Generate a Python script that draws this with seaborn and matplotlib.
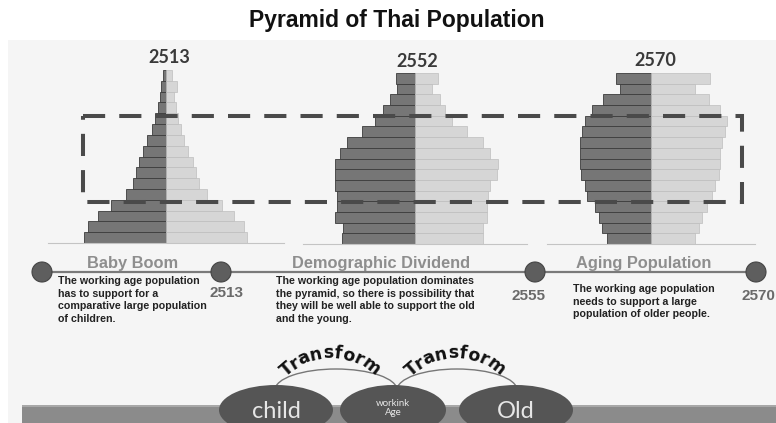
import numpy as np
import pandas as pd
import seaborn as sns
import matplotlib.pyplot as plt
from matplotlib.patches import Rectangle, Ellipse, Arc
from matplotlib.textpath import TextToPath
from matplotlib.font_manager import FontProperties

# age groups, youngest first (bottom of each pyramid)
ages = ['0-4', '5-9', '10-14', '15-19', '20-24', '25-29', '30-34', '35-39',
        '40-44', '45-49', '50-54', '55-59', '60-64', '65-69', '70-74', '75+']

male_2513 = [82, 78, 68, 55, 40, 33, 30, 27, 23, 19, 14, 11, 8, 6, 5, 3]
female_2513 = [81, 78, 68, 56, 41, 33, 30, 27, 22, 18, 15, 12, 10, 8, 11, 6]
male_2552 = [73, 72, 80, 78, 78, 80, 80, 80, 75, 68, 53, 40, 32, 25, 18, 19]
female_2552 = [68, 68, 72, 72, 73, 75, 82, 83, 75, 68, 52, 37, 30, 25, 17, 23]
male_2570 = [44, 49, 52, 56, 64, 66, 70, 71, 71, 71, 69, 66, 59, 48, 31, 35]
female_2570 = [44, 48, 51, 56, 61, 64, 68, 69, 69, 71, 74, 76, 69, 58, 44, 59]

years = ['2513', '2552', '2570']
phases = ['Baby Boom', 'Demographic Dividend', 'Aging Population']
timeline_years = ['2513', '2555', '2570']
notes = [
    "The working age population\nhas to support for a\ncomparative large population\nof children.",
    "The working age population dominates\nthe pyramid, so there is possibility that\nthey will be well able to support the old\nand the young.",
    "The working age population\nneeds to support a large\npopulation of older people.",
]
groups = ['child', 'workink\nAge', 'Old']

W, H = 776, 423
fig = plt.figure(figsize=(W / 100, H / 100), dpi=100)
fig.patch.set_facecolor('white')


def px_axes(left, top, right, bottom, z):
    return fig.add_axes([left / W, 1 - bottom / H, (right - left) / W, (bottom - top) / H], zorder=z)


# background panel
bg = px_axes(0, 0, W, H, 0)
bg.set_xlim(0, W)
bg.set_ylim(H, 0)
bg.axis('off')
bg.add_patch(Rectangle((8, 40), W - 8, H - 40, color='#f5f5f5', lw=0))

# pyramids
pyr = [(male_2513, female_2513, 166, 70, 243, 118),
       (male_2552, female_2552, 415, 73, 244, 112),
       (male_2570, female_2570, 651, 73, 244, 104)]
for (m, f, cx, top, bot, half), yr in zip(pyr, years):
    ax = px_axes(cx - half, top, cx + half, bot, 1)
    df = pd.DataFrame({
        'age': ages * 2,
        'sex': ['Male'] * len(ages) + ['Female'] * len(ages),
        'pop': [-v for v in m] + list(f),
    })
    sns.barplot(data=df, x='pop', y='age', hue='sex', order=ages[::-1],
                hue_order=['Male', 'Female'], orient='h', dodge=False, width=1.0,
                palette={'Male': '#767676', 'Female': '#d6d6d6'}, saturation=1,
                errorbar=None, legend=False, ax=ax)
    for p in ax.patches:
        if p.get_width() < 0:
            p.set_edgecolor('#3c3c3c')
            p.set_linewidth(0.6)
        else:
            p.set_edgecolor('#bdbdbd')
            p.set_linewidth(0.5)
    ax.set_xlim(-half, half)
    ax.set_ylim(len(ages) - 0.5, -0.5)
    ax.set_facecolor('none')
    for s in ['top', 'left', 'right']:
        ax.spines[s].set_visible(False)
    ax.spines['bottom'].set_color('#c4c4c4')
    ax.spines['bottom'].set_linewidth(0.8)
    ax.set_xticks([])
    ax.set_yticks([])
    ax.set_xlabel('')
    ax.set_ylabel('')

# overlay for annotations
ov = px_axes(0, 0, W, H, 3)
ov.set_xlim(0, W)
ov.set_ylim(H, 0)
ov.axis('off')
ov.set_facecolor('none')

ov.text(397, 27, 'Pyramid of Thai Population', ha='center', va='baseline',
        family='Liberation Sans', weight='bold', size=16.5, color='#111111')

for x, y, yr in zip([169, 417, 655], [63, 67, 66], years):
    ov.text(x, y, yr, ha='center', va='baseline', family='Lato', weight='bold',
            size=13, color='#3a3a3a')

# dashed working-age box
ov.add_patch(Rectangle((83, 116), 659, 86, fill=False, ec='#4a4a4a', lw=2.9,
                       ls=(0, (5.5, 3.5)), zorder=5))

# timeline
ov.plot([40, 757], [272, 272], color='#7a7a7a', lw=1.6, zorder=4)
for x in [42, 221, 535, 756]:
    ov.add_patch(Ellipse((x, 272), 20, 20, fc='#5e5e5e', ec='#444444', lw=0.8, zorder=5))
for x, ph in zip([133, 381, 644], phases):
    ov.text(x, 268, ph, ha='center', va='baseline', family='Liberation Sans',
            weight='bold', size=11.8, color='#8e8e8e', zorder=6)
for x, y, ty, ha in zip([226, 528, 775], [297, 300, 300], timeline_years, ['center', 'center', 'right']):
    ov.text(x, y, ty, ha=ha, va='baseline', family='Liberation Sans',
            weight='bold', size=11, color='#6a6a6a')
for x, y, note in zip([58, 276, 573], [276, 276, 284], notes):
    ov.text(x, y, note, ha='left', va='top', family='Liberation Sans',
            weight='bold', size=7.7, color='#222222', linespacing=1.32)

# bottom band and groups
ov.add_patch(Rectangle((22, 405), W - 22, 18, color='#8b8b8b', lw=0, zorder=2))
ov.add_patch(Rectangle((22, 405), W - 22, 2, color='#a8a8a8', lw=0, zorder=2))
for x, w in zip([276, 393, 516], [114, 106, 114]):
    ov.add_patch(Ellipse((x, 410), w, 50, fc='#555555', ec='none', zorder=3))
ov.text(276, 411, groups[0], ha='center', va='center', family='Lato', size=17, color='#e6e6e6', zorder=4)
ov.text(393, 408, groups[1], ha='center', va='center', family='Lato', size=7, color='#e6e6e6',
        linespacing=1.0, zorder=4)
ov.text(516, 411, groups[2], ha='center', va='center', family='Lato', size=17, color='#e6e6e6', zorder=4)

ov.add_patch(Arc((336, 390), 122, 42, theta1=180, theta2=360, color='#777777', lw=1.0, zorder=2))
ov.add_patch(Arc((457, 390), 120, 42, theta1=180, theta2=360, color='#777777', lw=1.0, zorder=2))

t2p = TextToPath()


def arc_text(s, cx, cy, r, size):
    fp = FontProperties(family='DejaVu Sans', weight='heavy', size=size)

    def wid(t):
        if not t:
            return 0.0
        return t2p.get_text_width_height_descent(t, fp, ismath=False)[0] * 100 / 72

    total = wid(s)
    for i, ch in enumerate(s):
        mid = (wid(s[:i]) + wid(s[:i + 1])) / 2 - total / 2
        phi = mid / r
        ov.text(cx + r * np.sin(phi), cy - r * np.cos(phi), ch, rotation=-np.degrees(phi),
                rotation_mode='anchor', ha='center', va='baseline', fontproperties=fp,
                color='#111111', zorder=6)


arc_text('Transform', 330, 420, 62, 12.5)
arc_text('Transform', 455, 420, 62, 12.5)

fig.savefig('out.png', dpi=100)
